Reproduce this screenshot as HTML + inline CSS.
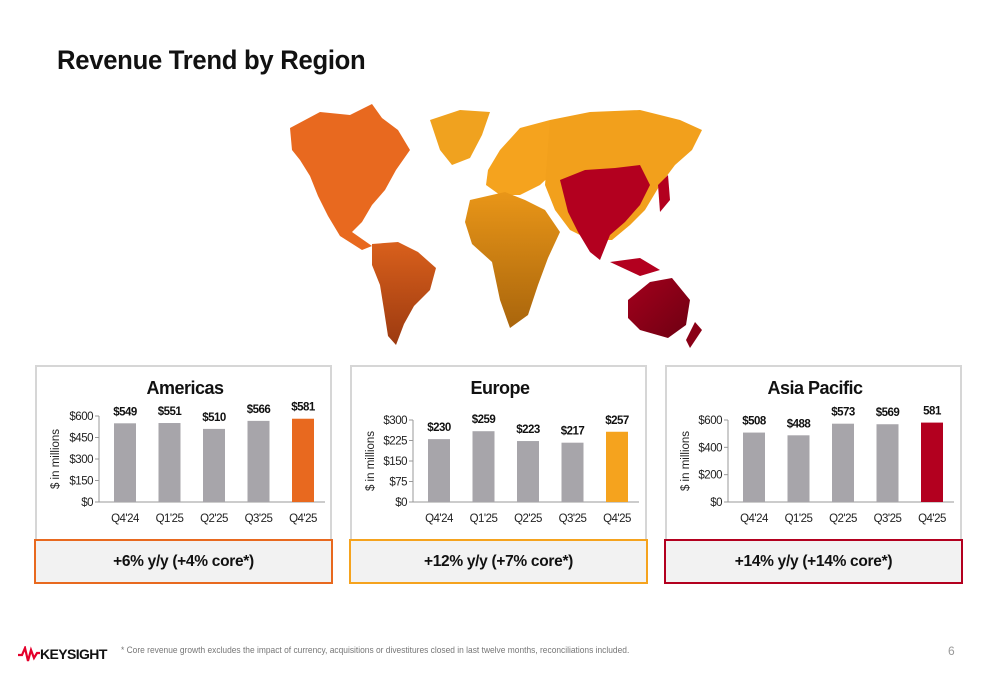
<!DOCTYPE html>
<html><head><meta charset="utf-8"><style>
body{margin:0;width:1000px;height:685px;background:#fff;font-family:"Liberation Sans",Arial,sans-serif;position:relative;overflow:hidden}
.abs{position:absolute}
.panel{position:absolute;top:365px;width:297px;height:174px;border:2px solid #d6d6d6;border-bottom:none;box-sizing:border-box}
.gbox{position:absolute;top:539px;width:299px;height:45px;box-sizing:border-box;background:#f2f2f2;font-weight:bold;font-size:15.5px;text-align:center;line-height:41px;color:#111;letter-spacing:-0.3px}
</style></head><body>
<div class="abs" style="left:57px;top:45px;font-size:27px;font-weight:bold;color:#111;transform:scaleX(0.95);transform-origin:left;letter-spacing:-0.3px">Revenue Trend by Region</div>

<svg class="abs" style="left:0;top:0" width="1000" height="360">
<defs>
<linearGradient id="sa" x1="0" y1="0" x2="0" y2="1"><stop offset="0" stop-color="#d9601c"/><stop offset="1" stop-color="#9c3a10"/></linearGradient>
<linearGradient id="af" x1="0" y1="0" x2="0" y2="1"><stop offset="0" stop-color="#e99618"/><stop offset="1" stop-color="#a9650c"/></linearGradient>
<linearGradient id="au" x1="0" y1="0" x2="1" y2="1"><stop offset="0" stop-color="#a3001c"/><stop offset="1" stop-color="#6e0012"/></linearGradient>
</defs>
<path fill="#e8691f" d="M290,128 L320,112 L350,115 L372,104 L382,118 L398,130 L410,150 L396,170 L385,190 L372,205 L362,222 L352,232 L372,246 L362,250 L340,236 L328,216 L318,196 L310,176 L300,160 L292,150 Z"/>
<path fill="#f0a21f" d="M430,120 L460,110 L490,112 L482,135 L470,158 L452,165 L440,150 Z"/>
<path fill="url(#sa)" d="M372,244 L398,242 L418,252 L436,268 L430,290 L414,306 L404,324 L396,345 L388,336 L384,310 L380,285 L372,265 Z"/>
<path fill="#f5a31e" d="M488,170 L500,150 L520,128 L550,120 L560,135 L556,170 L540,185 L520,195 L500,195 L486,185 Z"/>
<path fill="url(#af)" d="M470,200 L505,192 L525,200 L545,210 L560,232 L548,258 L538,285 L528,315 L510,328 L500,300 L492,262 L472,244 L465,222 Z"/>
<path fill="#f2a01c" d="M550,120 L590,112 L640,110 L680,120 L702,130 L692,150 L675,165 L660,185 L645,210 L630,225 L612,240 L590,240 L570,230 L555,210 L545,185 Z"/>
<path fill="#b3001f" d="M560,180 L585,170 L615,168 L640,165 L650,185 L640,205 L625,222 L610,235 L600,260 L590,252 L578,232 L568,212 Z"/>
<path fill="#b3001f" d="M658,185 L668,175 L670,200 L660,212 Z"/>
<path fill="#b3001f" d="M610,262 L640,258 L660,270 L640,276 Z"/>
<path fill="url(#au)" d="M628,300 L650,282 L672,278 L690,300 L686,325 L668,338 L640,330 L628,318 Z"/>
<path fill="#8a0016" d="M695,322 L702,330 L690,348 L686,340 Z"/>
</svg>

<div class="panel" style="left:35px"></div>
<div class="panel" style="left:350px"></div>
<div class="panel" style="left:665px"></div>
<div class="gbox" style="left:34px;border:2px solid #e8691f">+6% y/y (+4% core*)</div>
<div class="gbox" style="left:349px;border:2px solid #f5a31e">+12% y/y (+7% core*)</div>
<div class="gbox" style="left:664px;border:2px solid #b3001f">+14% y/y (+14% core*)</div>

<svg id="charts" class="abs" style="left:0;top:0" width="1000" height="540"></svg>

<div class="abs" style="left:18px;top:646px;font-size:14px;font-weight:bold;color:#111;letter-spacing:-0.6px">
<svg width="22" height="16" style="vertical-align:-3px"><path d="M0,9 L4,9 L7,2 L10,15 L13,4 L16,12 L19,7 L22,7" fill="none" stroke="#e4002b" stroke-width="2.2"/></svg>KEYSIGHT</div>
<div class="abs" style="left:121px;top:645px;font-size:9.5px;color:#777;transform:scaleX(0.885);transform-origin:left;white-space:nowrap">* Core revenue growth excludes the impact of currency, acquisitions or divestitures closed in last twelve months, reconciliations included.</div>
<div class="abs" style="left:948px;top:644px;font-size:12px;color:#999">6</div>

<script>
const categories=["Q4'24","Q1'25","Q2'25","Q3'25","Q4'25"];
const americasValues=[549,551,510,566,581];
const americasLabels=["$549","$551","$510","$566","$581"];
const americasTicks=[0,150,300,450,600];
const europeValues=[230,259,223,217,257];
const europeLabels=["$230","$259","$223","$217","$257"];
const europeTicks=[0,75,150,225,300];
const asiaValues=[508,488,573,569,581];
const asiaLabels=["$508","$488","$573","$569","581"];
const asiaTicks=[0,200,400,600];

const svg=document.getElementById('charts');
const NS='http://www.w3.org/2000/svg';
function mk(tag,attrs,txt){const e=document.createElementNS(NS,tag);for(const k in attrs)e.setAttribute(k,attrs[k]);if(txt!==undefined)e.textContent=txt;svg.appendChild(e);return e;}
function chart(key,title,left,axisX,topY,vals,labels,ticks,hi){
  const base=502,maxV=ticks[ticks.length-1];
  const y=v=>base-(v/maxV)*(base-topY);
  const step=44.5,x0=axisX+26;
  const x=i=>x0+i*step;
  let t=mk('text',{x:left+150,y:394,'text-anchor':'middle','font-size':18,'font-weight':'bold',fill:'#111','letter-spacing':'-0.5'},title);
  
  let a=mk('line',{x1:axisX,y1:y(maxV),x2:axisX,y2:base,stroke:'#999'});
  
  let b=mk('line',{x1:axisX,y1:base,x2:x(4)+22,y2:base,stroke:'#999'});
  
  ticks.forEach(v=>{
    mk('line',{x1:axisX-4,y1:y(v),x2:axisX,y2:y(v),stroke:'#999'});
    let tl=mk('text',{x:axisX-6,y:y(v)+4,'text-anchor':'end','font-size':11.5,fill:'#222','letter-spacing':'-0.5'},'$'+v);
    
  });
  let yt=mk('text',{x:0,y:0,transform:`translate(${left+24},${(topY+base)/2}) rotate(-90)`,'text-anchor':'middle','font-size':11.5,fill:'#222'},'$ in millions');
  
  vals.forEach((v,i)=>{
    let r=mk('rect',{x:x(i)-11,y:y(v),width:22,height:base-y(v),fill:i===4?hi:'#a7a5aa'});
    
    let l=mk('text',{x:x(i),y:y(v)-8,'text-anchor':'middle','font-size':11.5,'font-weight':'bold',fill:'#111','letter-spacing':'-0.5'},labels[i]);
    
    let c=mk('text',{x:x(i),y:522,'text-anchor':'middle','font-size':11.5,fill:'#222','letter-spacing':'-0.5'},categories[i]);
    
  });
}
chart('americas','Americas',35,99,416,americasValues,americasLabels,americasTicks,'#e8691f');
chart('europe','Europe',350,413,420,europeValues,europeLabels,europeTicks,'#f5a31e');
chart('asia','Asia Pacific',665,728,420,asiaValues,asiaLabels,asiaTicks,'#b3001f');
</script>
</body></html>
